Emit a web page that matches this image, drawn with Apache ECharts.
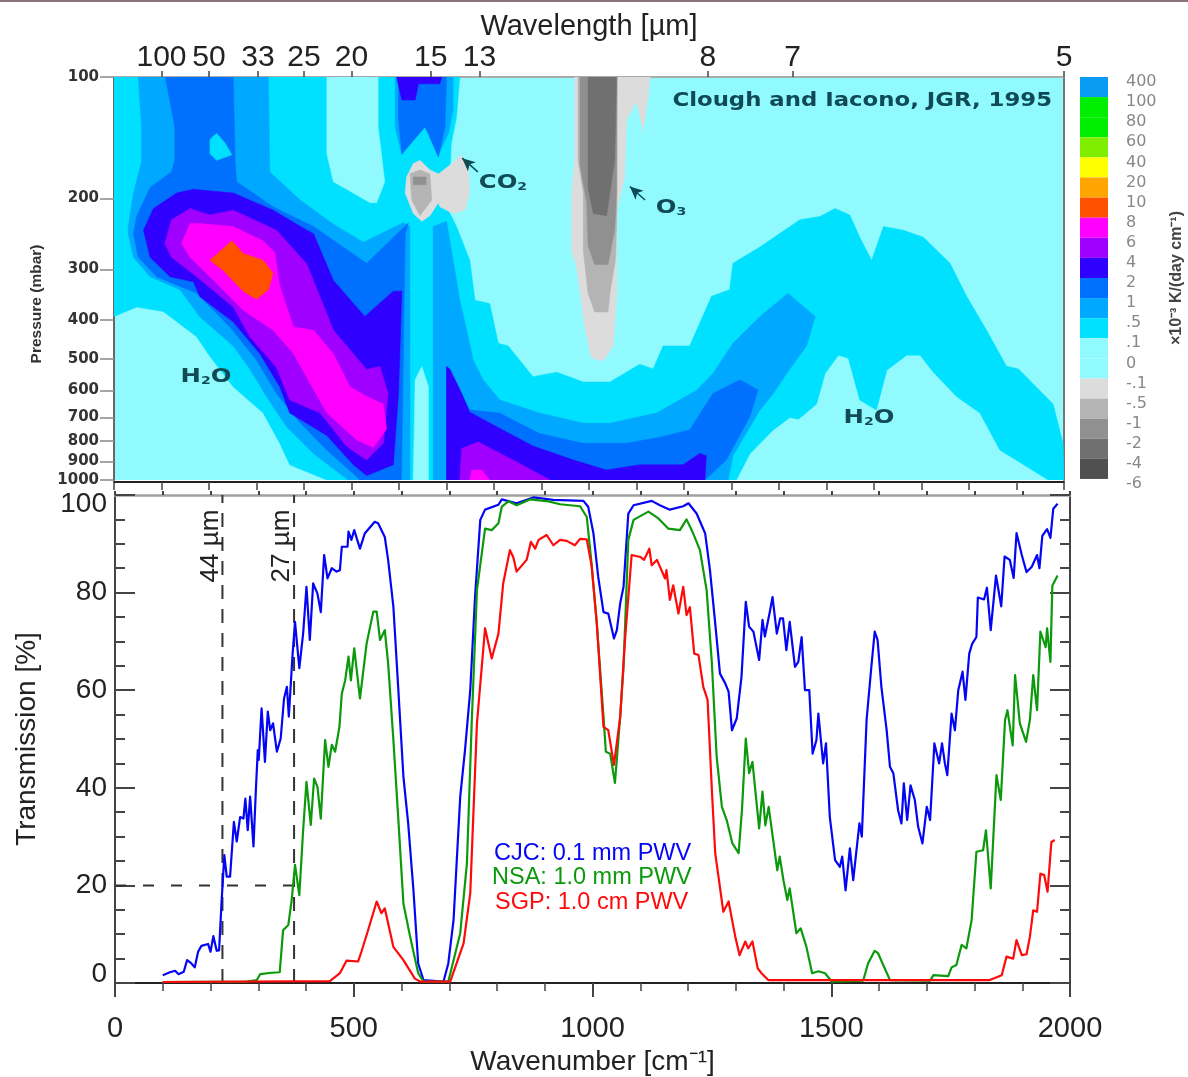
<!DOCTYPE html>
<html><head><meta charset="utf-8">
<style>html,body{margin:0;padding:0;background:#fff}#c{width:1188px;height:1077px}</style>
<script src="https://cdn.jsdelivr.net/npm/echarts@6/dist/echarts.min.js"></script>
</head><body><div id="c"></div>
<script>
// ---------- Transmission spectra: [wavenumber cm-1, transmission %] ----------
const cjcBlue = [[100,1.6],[115,2.2],[126,2.5],[133,1.8],[144,2.3],[151,4.7],[160,4],[167,3.2],[174,6.4],[181,7.6],[195,8],[200,6.4],[206,9.6],[213,6.6],[218,6.7],[223,16.3],[229,26.2],[234,21.8],[241,21.8],[249,33],[255,29],[262,34],[269,33.7],[273,37.8],[278,31.3],[283,38.2],[290,28],[295,39.5],[299,47.7],[301,45.7],[307,56.3],[314,45.3],[320,55.6],[325,51.8],[331,53.2],[339,47.4],[347,50.1],[354,58.3],[360,60.7],[364,54.6],[372,67.5],[377,74],[386,64.5],[394,71.6],[401,81.2],[408,70.3],[415,81.9],[424,79.8],[431,76],[438,87.7],[445,82.9],[454,85],[464,84.3],[471,84.6],[475,89.4],[487,89.4],[489,92.5],[495,90.8],[501,92.8],[513,89],[523,92.1],[544,94.5],[551,94.2],[565,91.4],[572,86.7],[583,77.1],[593,60.7],[604,42.3],[614,32.7],[625,19],[635,4],[646,0.6],[688,0.3],[698,4],[709,12.9],[723,38.2],[733,47.7],[744,60],[754,79.1],[765,94.9],[775,97],[803,98],[810,99.1],[841,98.3],[876,99.5],[918,99],[981,98.8],[991,97.6],[1002,92.1],[1012,83.2],[1023,76],[1033,75.7],[1045,70.6],[1051,72.3],[1058,77.8],[1065,81.2],[1075,96.2],[1086,97.9],[1124,98.8],[1141,97.9],[1162,97],[1190,97.7],[1201,98.3],[1218,96.2],[1236,92.1],[1246,84.6],[1257,73.7],[1267,63.4],[1278,61.4],[1285,59.7],[1292,51.8],[1302,54.2],[1312,62.7],[1321,78.1],[1328,73],[1337,72],[1349,66.2],[1356,74.4],[1361,71],[1372,76.4],[1377,79.1],[1386,71.6],[1393,74.7],[1399,74.7],[1406,68.2],[1413,74],[1424,64.8],[1431,65.8],[1438,70.9],[1445,60],[1454,60],[1461,47],[1469,49.8],[1473,55.2],[1483,45],[1489,49.1],[1497,34],[1508,25.2],[1518,23.8],[1523,25.9],[1530,19],[1539,27.6],[1546,21.1],[1559,32.7],[1564,30],[1574,53.9],[1584,64.8],[1591,72],[1597,70.3],[1605,60.7],[1616,51.8],[1623,44.3],[1630,43],[1640,35.4],[1647,32.7],[1652,40.9],[1659,33.4],[1666,40.5],[1675,37.5],[1682,32],[1691,28.6],[1700,36.1],[1707,33.4],[1716,49.1],[1726,45],[1732,49.1],[1738,45],[1743,42.6],[1752,55.2],[1759,51.8],[1766,60],[1775,63.8],[1781,58],[1789,67.5],[1795,69.5],[1804,70.9],[1807,79],[1820,78.6],[1826,81],[1834,72.3],[1845,83.5],[1856,77.2],[1863,87.4],[1874,86.7],[1882,83],[1888,92.2],[1899,87.7],[1909,84.2],[1920,85.3],[1931,87.7],[1936,85],[1942,91.6],[1952,93],[1959,91.2],[1965,97.2],[1974,98.2]];
const nsaGreen = [[100,0.2],[276,0.3],[297,0.6],[304,1.8],[328,2.1],[345,2.2],[352,10.8],[363,11.9],[370,17],[377,24.2],[386,18],[394,31.3],[401,41.2],[410,32.4],[417,41.9],[424,40.2],[431,33.7],[440,49.8],[447,44.3],[454,48.8],[461,47.4],[470,52.5],[475,59.3],[482,62],[489,66.9],[494,62],[501,68.6],[513,58.3],[527,69.6],[541,76.1],[548,76.1],[555,70.3],[565,72.3],[572,65.5],[583,49.8],[593,34.1],[604,16.3],[618,9.5],[635,2],[646,0.3],[698,0.3],[723,10.2],[737,24.5],[747,53.2],[758,80.5],[775,93.1],[789,92.8],[803,94.2],[810,97.6],[824,98.7],[841,97.9],[869,99.1],[908,98.7],[932,98.1],[974,97.7],[988,95.5],[998,86],[1009,73.7],[1023,54.6],[1028,47.4],[1037,47],[1047,41],[1058,54.6],[1065,64.8],[1075,90.8],[1086,94.9],[1117,96.6],[1138,95.2],[1159,93.1],[1183,92.8],[1197,95],[1211,92.1],[1225,88.7],[1239,80.5],[1250,65.5],[1260,46.4],[1271,36.1],[1281,33.4],[1293,28.6],[1306,26.6],[1313,35.4],[1321,50.1],[1328,43],[1335,45.3],[1349,31.7],[1356,39.2],[1362,32.3],[1369,36.1],[1376,31],[1387,23.1],[1392,25.9],[1400,21],[1408,17],[1413,19.4],[1427,10.2],[1436,11.2],[1448,7.4],[1460,2],[1473,2.4],[1487,2],[1501,0.3],[1567,0.5],[1577,4],[1591,6.6],[1598,6.1],[1623,0.6],[1707,0.5],[1714,1.6],[1745,1.4],[1752,3.2],[1762,3.7],[1773,7.8],[1783,7.1],[1794,12.9],[1804,26.9],[1818,27.2],[1824,31.3],[1834,19.4],[1846,42.6],[1855,37.5],[1864,53.9],[1869,55.9],[1880,48.7],[1885,63.1],[1895,53.2],[1908,49.4],[1916,53.9],[1923,63.1],[1931,55.9],[1938,72],[1942,72],[1949,68.8],[1952,72.7],[1959,65.8],[1963,81.4],[1974,83.5]];
const sgpRed = [[100,0.2],[450,0.4],[471,2],[485,4.6],[509,4.4],[516,6.4],[530,10.8],[548,16.7],[558,14.3],[565,15.3],[583,7.4],[604,4.7],[628,0.9],[639,0.3],[702,0.3],[730,8.1],[744,18.4],[758,53.2],[775,72.7],[789,66.5],[803,71.6],[813,81.9],[827,88.7],[834,87.3],[841,84.3],[862,86.7],[871,90.4],[880,89],[887,90.8],[904,91.8],[918,89.7],[932,90.8],[946,90.6],[963,89.7],[974,91],[988,90.9],[998,85.6],[1009,73.7],[1023,52.5],[1033,51.8],[1045,44.7],[1058,54.6],[1068,70.3],[1082,87.7],[1100,87.3],[1108,86.7],[1119,89],[1124,85.6],[1135,86.7],[1152,82.9],[1155,84.6],[1162,78.5],[1169,81.5],[1180,75.7],[1190,81.2],[1197,75.4],[1204,77],[1213,67.5],[1222,67.2],[1232,60.7],[1241,58],[1250,39.5],[1257,26.6],[1274,14.6],[1285,16.7],[1299,9.5],[1308,5.7],[1320,8.5],[1326,7.1],[1335,8.5],[1346,3],[1354,2],[1368,0.6],[1832,0.6],[1857,1.6],[1867,5.4],[1881,5],[1888,8.8],[1899,5.7],[1909,5.9],[1916,9.5],[1923,14.9],[1931,14.6],[1938,22.4],[1946,22.1],[1953,18.7],[1961,28.9],[1968,29.3]];
const guide44um = [[225,0],[225,100]];
const guide27um = [[375,0],[375,100]];
const guide20pct = [[0,20],[375,20]];

// ---------- Cooling-rate contour bands: [wavenumber cm-1, pressure mbar] ----------
const bandCyanMain = [[0,100],[0,393],[48,372],[104,382],[174,441],[202,494],[251,587],[314,682],[349,811],[370,917],[448,1000],[1310,1000],[1339,860],[1388,751],[1423,700],[1441,707],[1479,648],[1497,544],[1525,490],[1546,499],[1570,633],[1605,670],[1627,534],[1669,490],[1697,490],[1725,540],[1774,621],[1823,682],[1865,843],[1967,1000],[2000,1000],[1998,811],[1977,648],[1904,530],[1879,522],[1837,425],[1795,350],[1760,290],[1704,250],[1662,240],[1620,235],[1595,285],[1570,250],[1549,220],[1518,212],[1486,222],[1444,226],[1360,264],[1303,290],[1296,337],[1258,350],[1212,465],[1156,465],[1135,530],[1107,516],[1044,571],[988,571],[932,540],[882,554],[830,465],[809,458],[791,365],[760,358],[749,285],[721,235],[704,214],[710,146],[721,126],[728,100]];
const bandClearTop = [[448,100],[556,100],[556,133],[570,182],[553,205],[539,205],[462,182],[448,155]];
const bandClearStrip = [[630,1000],[634,564],[648,523],[662,587],[662,1000]];
const bandCyanBlob = [[202,143],[216,138],[234,146],[248,156],[216,161],[202,155]];
const bandBlue1Left = [[51,100],[58,133],[58,162],[41,194],[30,235],[30,245],[41,280],[76,313],[139,337],[181,394],[251,465],[286,530],[321,621],[363,737],[420,860],[476,965],[493,1000],[623,1000],[623,235],[609,230],[525,257],[462,232],[392,202],[328,172],[325,100]];
const bandBlue1Top = [[592,100],[592,133],[606,156],[655,132],[683,156],[704,138],[714,121],[714,100]];
const bandBlue1Right = [[672,1000],[672,235],[700,228],[714,285],[728,358],[746,443],[756,504],[777,564],[812,633],[896,682],[988,723],[1044,723],[1142,682],[1226,600],[1261,544],[1303,458],[1360,393],[1419,344],[1444,365],[1476,393],[1458,465],[1416,544],[1388,610],[1360,670],[1303,870],[1293,1000]];
const bandBlue2Left = [[108,100],[128,133],[128,161],[121,172],[76,188],[48,221],[41,245],[51,280],[90,313],[174,344],[244,417],[300,504],[342,610],[392,722],[448,843],[504,965],[518,1000],[605,1000],[613,245],[620,230],[532,290],[420,235],[335,210],[258,182],[255,161],[251,100]];
const bandBlue2Top = [[599,100],[599,127],[606,155],[655,133],[683,158],[697,133],[700,100]];
const bandBlue2Right = [[700,1000],[700,523],[728,598],[749,670],[812,682],[833,703],[896,767],[988,811],[1079,811],[1149,783],[1212,751],[1261,610],[1318,564],[1356,598],[1339,695],[1289,892],[1244,1000]];
const bandIndigoLeft = [[167,190],[132,194],[83,212],[62,240],[76,280],[118,313],[167,322],[181,351],[251,405],[307,486],[349,587],[370,682],[448,775],[504,917],[532,975],[588,917],[599,610],[606,340],[588,340],[528,393],[462,320],[420,245],[406,240],[335,214],[251,194],[209,192]];
const bandIndigoTop = [[595,100],[606,114],[634,114],[641,104],[686,104],[690,100]];
const bandIndigoRight = [[700,523],[700,1000],[1244,1000],[1247,870],[1233,860],[1198,917],[1107,917],[1037,945],[967,892],[882,824],[791,722],[749,679],[728,596],[707,530]];
const bandPurpleLeft = [[160,212],[121,226],[107,259],[121,280],[174,313],[251,372],[286,441],[342,526],[370,633],[434,682],[490,826],[532,892],[567,811],[577,610],[560,523],[532,532],[462,425],[406,291],[342,240],[251,214],[202,220]];
const bandPurpleRight = [[728,1000],[732,835],[767,805],[840,892],[918,1000]];
const bandMagentaLeft = [[160,231],[142,259],[160,280],[202,313],[272,379],[335,425],[378,486],[420,596],[448,682],[511,796],[546,830],[574,747],[567,648],[532,621],[497,587],[462,486],[420,425],[378,417],[349,330],[339,273],[314,255],[251,235],[181,231]];
const bandMagentaRight = [[749,1000],[753,945],[774,945],[791,1000]];
const bandOrangeCore = [[248,255],[202,285],[230,302],[272,340],[300,356],[325,337],[335,307],[314,285],[272,274]];
const bandCo2Edge = [[644,161],[665,170],[683,174],[714,163],[732,156],[746,170],[749,194],[739,214],[714,218],[686,210],[683,205],[665,221],[648,228],[630,218],[613,194],[616,177],[630,164]];
const bandCo2Inner = [[623,174],[644,170],[665,174],[669,202],[644,221],[627,202]];
const bandCo2Core = [[630,177],[657,177],[657,185],[630,185]];
const bandO3Edge = [[970,100],[970,161],[963,194],[963,270],[974,296],[991,417],[1005,498],[1030,507],[1051,465],[1059,344],[1059,214],[1075,177],[1079,128],[1100,115],[1114,137],[1125,110],[1129,100]];
const bandO3Mid = [[977,100],[977,161],[988,194],[988,270],[998,344],[1012,383],[1040,383],[1044,344],[1056,282],[1059,214],[1059,100]];
const bandO3Inner = [[981,100],[981,165],[995,205],[998,262],[1012,292],[1040,292],[1054,240],[1058,194],[1059,100]];
const bandO3Core = [[998,100],[998,189],[1009,218],[1037,221],[1054,161],[1058,100]];
const arrowCo2 = [[766,172],[733,159]];
const arrowO3 = [[1118,202],[1086,187]];

// ---------- Scale text ----------
const colorbarLabels = ['400','100','80','60','40','20','10','8','6','4','2','1','.5','.1','0','-.1','-.5','-1','-2','-4','-6'];
const colorbarColors = ['#0a9cf5','#00ee00','#00ee00','#7fee00','#ffff00','#ffa500','#ff5000','#ff00ff','#a000ff','#3000ff','#0070ff','#00a8ff','#00e0ff','#90faff','#90faff','#dcdcdc','#b4b4b4','#909090','#707070','#505050'];
const wavelengthTicks = [100,50,33,25,20,15,13,8,7,5];
const pressureTicks = [100,200,300,400,500,600,700,800,900,1000];

const C = {cyan:12,clear:13,blue1:11,blue2:10,indigo:9,purple:8,magenta:7,orange:6,g1:15,g2:16,g3:17,g4:18};
const contours = [
 [bandCyanMain,C.cyan],[bandClearTop,C.clear],[bandClearStrip,C.clear],
 [bandBlue1Left,C.blue1],[bandBlue1Top,C.blue1],[bandBlue1Right,C.blue1],
 [bandBlue2Left,C.blue2],[bandBlue2Top,C.blue2],[bandBlue2Right,C.blue2],
 [bandCyanBlob,C.cyan],
 [bandIndigoLeft,C.indigo],[bandIndigoTop,C.indigo],[bandIndigoRight,C.indigo],
 [bandPurpleLeft,C.purple],[bandPurpleRight,C.purple],
 [bandMagentaLeft,C.magenta],[bandMagentaRight,C.magenta],[bandOrangeCore,C.orange],
 [bandCo2Edge,C.g1],[bandCo2Inner,C.g2],[bandCo2Core,C.g3],
 [bandO3Edge,C.g1],[bandO3Mid,C.g2],[bandO3Inner,C.g3],[bandO3Core,C.g4]
];

const FONT='"Liberation Sans",Arial,sans-serif', INK='#222', AX='#444', TEAL='#0f4a55';
const chart = echarts.init(document.getElementById('c'),null,{renderer:'canvas'});

const series=[
 {type:'custom',coordinateSystem:'cartesian2d',xAxisIndex:0,yAxisIndex:0,clip:true,
  data:contours.map((c,i)=>({value:[c[0][0][0],c[0][0][1],i]})),
  renderItem(params,api){
    const k=api.value(2), c=contours[k];
    return {type:'polygon',shape:{points:c[0].map(p=>api.coord(p))},style:{fill:colorbarColors[c[1]],stroke:colorbarColors[c[1]],lineWidth:0.5}};
  },silent:true,z:2},
 {type:'line',xAxisIndex:0,yAxisIndex:0,data:[],silent:true,z:4,
  markLine:{silent:true,animation:false,symbol:['none','arrow'],symbolSize:[9,13],lineStyle:{type:'solid',color:TEAL,width:1.5},label:{show:false},
   data:[[{coord:arrowCo2[0]},{coord:arrowCo2[1],itemStyle:{color:'#000'}}],[{coord:arrowO3[0]},{coord:arrowO3[1],itemStyle:{color:'#000'}}]]}},
];
const dash=(d,pat)=>({type:'line',xAxisIndex:2,yAxisIndex:2,data:d,showSymbol:false,silent:true,z:3,lineStyle:{color:'#333',width:2,type:pat}});
series.push(dash(guide44um,[14,10]),dash(guide27um,[14,10]),dash(guide20pct,[11,17]));
const spec=(name,d,col,z)=>({name,type:'line',xAxisIndex:2,yAxisIndex:2,data:d,showSymbol:false,silent:true,z,lineStyle:{color:col,width:2.2,join:'round'}});
series.push(spec('CJC',cjcBlue,'#0505f5',5),spec('NSA',nsaGreen,'#0c9a0c',6),spec('SGP',sgpRed,'#ff0a0a',7));
colorbarColors.forEach(col=>series.push({type:'bar',xAxisIndex:4,yAxisIndex:4,stack:'scale',data:[1],barWidth:'100%',silent:true,itemStyle:{color:col}}));

const legendText=(t,x,y,c)=>({type:'text',x,y,silent:true,style:{text:t,fill:c,font:'23.5px '+FONT,textAlign:'left',textVerticalAlign:'middle'}});
const teal=(rich,x,y)=>({type:'text',x,y,scaleX:1.28,silent:true,z:20,style:{text:rich,textAlign:'center',textVerticalAlign:'middle',
   rich:{b:{fill:TEAL,font:'bold 19px "DejaVu Sans"'},s:{fill:TEAL,font:'bold 11px "DejaVu Sans"',verticalAlign:'bottom',padding:[9,0,0,0]}}}});
const rot=(t,x,y,font,fill)=>({type:'text',x,y,rotation:Math.PI/2,silent:true,z:20,style:{text:t,font,fill,textAlign:'center',textVerticalAlign:'middle'}});

chart.setOption({
 animation:false,backgroundColor:'#fff',
 grid:[
  {left:114,top:77,width:950,height:403,show:true,backgroundColor:'#90faff',borderWidth:0,outerBoundsMode:'none',containLabel:false},
  {left:115,top:495,width:955,height:488,show:false,outerBoundsMode:'none',containLabel:false},
  {left:1080,top:77,width:28,height:412,show:false,outerBoundsMode:'none',containLabel:false}
 ],
 xAxis:[
  {gridIndex:0,type:'value',min:0,max:2000,interval:100,position:'bottom',offset:2,axisLine:{onZero:false,lineStyle:{color:'#222',width:2}},axisTick:{length:8,lineStyle:{color:AX,width:1.5}},axisLabel:{show:false},splitLine:{show:false}},
  {gridIndex:0,type:'value',min:0,max:2000,position:'top',name:'Wavelength [µm]',nameLocation:'middle',nameGap:36,nameTextStyle:{fontFamily:FONT,fontSize:29,color:INK},
   axisLine:{onZero:false,lineStyle:{color:'#aaa',width:2}},axisTick:{length:6,customValues:wavelengthTicks.map(w=>1e4/w),lineStyle:{color:AX,width:1.5}},
   axisLabel:{customValues:wavelengthTicks.map(w=>1e4/w),formatter:v=>String(Math.round(1e4/v)),fontFamily:FONT,fontSize:30,color:INK,margin:4},splitLine:{show:false}},
  {gridIndex:1,type:'value',min:0,max:2000,interval:500,position:'bottom',name:'Wavenumber [cm⁻¹]',nameLocation:'middle',nameGap:65,nameTextStyle:{fontFamily:FONT,fontSize:28,color:INK},
   axisLine:{onZero:false,lineStyle:{color:'#222',width:2}},axisTick:{length:14,lineStyle:{color:AX,width:2}},minorTick:{show:true,splitNumber:5,length:8,lineStyle:{color:AX,width:1.5}},
   axisLabel:{formatter:v=>String(v),fontFamily:FONT,fontSize:29,color:INK,margin:31},splitLine:{show:false},minorSplitLine:{show:false}},
  {gridIndex:1,type:'value',min:0,max:2000,interval:100,position:'top',axisLine:{onZero:false,lineStyle:{color:'#a0a0a0',width:2.5}},axisTick:{length:4,lineStyle:{color:AX,width:2}},axisLabel:{show:false},splitLine:{show:false}},
  {gridIndex:2,type:'category',data:['scale'],show:false}
 ],
 yAxis:[
  {gridIndex:0,type:'log',logBase:10,min:100,max:1000,inverse:true,position:'left',axisLine:{onZero:false,lineStyle:{color:'#666',width:2}},
   axisTick:{length:14,customValues:pressureTicks,lineStyle:{color:'#888',width:1.5}},minorTick:{show:false},
   axisLabel:{customValues:pressureTicks,formatter:v=>String(Math.round(v)),fontFamily:'"DejaVu Sans"',fontWeight:'bold',fontSize:15,color:'#333',margin:15},splitLine:{show:false}},
  {gridIndex:0,type:'log',logBase:10,min:100,max:1000,inverse:true,position:'right',axisLine:{onZero:false,lineStyle:{color:'#777',width:2}},axisTick:{show:false},axisLabel:{show:false},splitLine:{show:false}},
  {gridIndex:1,type:'value',min:0,max:100,interval:20,position:'left',name:'Transmission [%]',nameLocation:'middle',nameGap:74,nameTextStyle:{fontFamily:FONT,fontSize:28,color:INK},
   axisLine:{onZero:false,lineStyle:{color:AX,width:2}},axisTick:{inside:true,length:20,lineStyle:{color:AX,width:2}},minorTick:{show:true,splitNumber:4,length:10,lineStyle:{color:AX,width:2}},
   axisLabel:{fontFamily:FONT,fontSize:28,color:INK,margin:8,verticalAlignMinLabel:'bottom',verticalAlignMaxLabel:'top',lineHeight:18},splitLine:{show:false},minorSplitLine:{show:false}},
  {gridIndex:1,type:'value',min:0,max:100,interval:20,position:'right',axisLine:{onZero:false,lineStyle:{color:AX,width:2}},axisTick:{inside:true,length:20,lineStyle:{color:AX,width:2}},minorTick:{show:true,splitNumber:4,length:10,lineStyle:{color:AX,width:2}},axisLabel:{show:false},splitLine:{show:false},minorSplitLine:{show:false}},
  {gridIndex:2,type:'value',min:0,max:20.5,inverse:true,position:'right',axisLine:{show:false},axisTick:{show:false},splitLine:{show:false},
   axisLabel:{customValues:colorbarLabels.map((_,i)=>i+0.25),formatter:v=>colorbarLabels[Math.round(v-0.25)],fontFamily:'"DejaVu Sans"',fontSize:16,color:'#888',margin:18,align:'left'}}
 ],
 series,
 graphic:[
  {type:'rect',shape:{x:0,y:0,width:1188,height:2},style:{fill:'#8a7478'},silent:true},
  rot('Pressure (mbar)',37,304,'bold 15.5px '+FONT,'#333'),
  rot('×10⁻³ K/(day cm⁻¹)',1177,278,'bold 16px '+FONT,'#444'),
  rot('44 µm',211,546,'26px '+FONT,INK),
  rot('27 µm',282,546,'26px '+FONT,INK),
  legendText('CJC: 0.1 mm PWV',494,854,'#0505f5'),
  legendText('NSA: 1.0 mm PWV',492,878,'#0c9a0c'),
  legendText('SGP: 1.0 cm PWV',495,903,'#ff0a0a'),
  teal('{b|H}{s|2}{b|O}',206,377),
  teal('{b|H}{s|2}{b|O}',869,418),
  teal('{b|CO}{s|2}',503,183),
  teal('{b|O}{s|3}',671,208),
  {type:'text',x:1052,y:101,scaleX:1.2,silent:true,z:20,style:{text:'Clough and Iacono, JGR, 1995',font:'bold 19px "DejaVu Sans"',fill:TEAL,textAlign:'right',textVerticalAlign:'middle'}}
 ]
});
</script></body></html>
